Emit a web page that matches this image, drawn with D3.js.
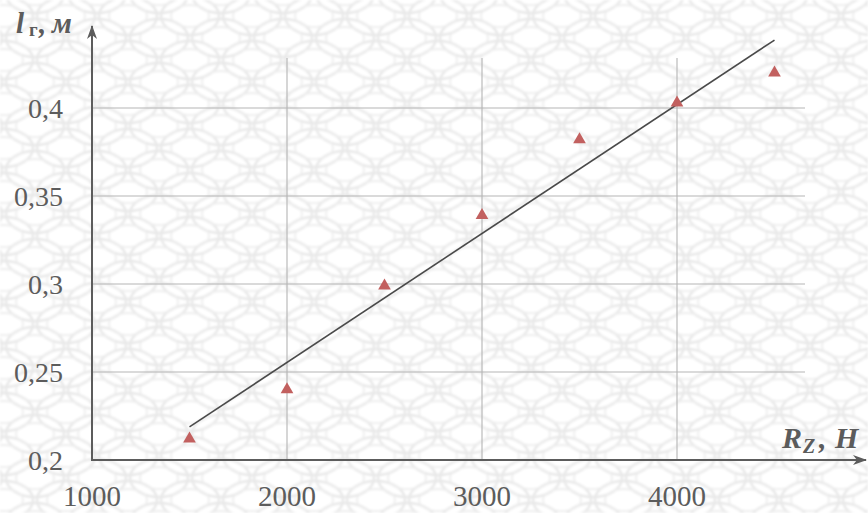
<!DOCTYPE html>
<html>
<head>
<meta charset="utf-8">
<script src="https://cdn.jsdelivr.net/npm/d3@7"></script>
<style>
  html, body { margin: 0; padding: 0; background: #fff; }
  svg { display: block; }
</style>
</head>
<body>
<svg id="chart" width="868" height="513"></svg>
<script>
// Measured points: tensile force R_Z (N) vs. length l_г (m)
const forces = [1500, 2000, 2500, 3000, 3500, 4000, 4500];
const lengths = [0.212, 0.240, 0.299, 0.339, 0.382, 0.403, 0.420];

// Linear trend drawn through the points
const trendX = [1500, 4500];
const trendY = [0.2188, 0.4386];

// Tick labels
const xTicks = [1000, 2000, 3000, 4000];
const yTicks = [0.2, 0.25, 0.3, 0.35, 0.4];
const xGrid = [2000, 3000, 4000];
const yGrid = [0.25, 0.3, 0.35, 0.4];

const W = 868, H = 513;
const FONT = "'Liberation Serif', 'Times New Roman', Times, serif";
const svg = d3.select("#chart");

// Light interlaced background ornament
const defs = svg.append("defs");
const pw = 62, ph = 44;
const pat = defs.append("pattern")
  .attr("id", "bg").attr("patternUnits", "userSpaceOnUse")
  .attr("width", pw).attr("height", ph)
  .attr("x", 4).attr("y", 16);
pat.append("rect").attr("width", pw).attr("height", ph).attr("fill", "#fff");
const shifts = [[0, 0], [pw, 0], [-pw, 0], [0, ph], [0, -ph], [pw, ph], [-pw, ph], [pw, -ph], [-pw, -ph]];
const ring = (cx, cy, rx, ry, col, sw) => {
  shifts.forEach(([dx, dy]) => {
    pat.append("ellipse").attr("cx", cx + dx).attr("cy", cy + dy)
      .attr("rx", rx).attr("ry", ry)
      .attr("fill", "none").attr("stroke", col).attr("stroke-width", sw);
  });
};
ring(0, 0, 29, 19, "#e8e8e8", 2.4);
ring(pw / 2, ph / 2, 29, 19, "#e8e8e8", 2.4);
ring(0, 0, 19, 11, "#eeeeee", 1.8);
ring(pw / 2, ph / 2, 19, 11, "#eeeeee", 1.8);
defs.append("filter").attr("id", "soft")
  .append("feGaussianBlur").attr("stdDeviation", 0.8);
svg.append("rect").attr("width", W).attr("height", H)
  .attr("fill", "url(#bg)").attr("filter", "url(#soft)");

// Scales
const x = d3.scaleLinear().domain([1000, 4000]).range([92, 677]);
const y = d3.scaleLinear().domain([0.2, 0.4]).range([460, 108]);

const grey = "#5c5c5c";

// Grid
svg.append("g").selectAll("line").data(yGrid).join("line")
  .attr("x1", x(1000)).attr("x2", 805)
  .attr("y1", d => y(d)).attr("y2", d => y(d))
  .attr("stroke", "#b5b5b5").attr("stroke-width", 1.1);
svg.append("g").selectAll("line").data(xGrid).join("line")
  .attr("x1", d => x(d)).attr("x2", d => x(d))
  .attr("y1", y(0.2)).attr("y2", 58)
  .attr("stroke", "#b5b5b5").attr("stroke-width", 1.1);

// Axes with arrowheads
const arrow = defs.append("marker").attr("id", "arrow")
  .attr("viewBox", "0 0 14 10").attr("refX", 13).attr("refY", 5)
  .attr("markerWidth", 14).attr("markerHeight", 10)
  .attr("markerUnits", "userSpaceOnUse").attr("orient", "auto");
arrow.append("path").attr("d", "M0,0 L14,5 L0,10 L4,5 Z").attr("fill", grey);

svg.append("line").attr("x1", x(1000)).attr("y1", y(0.2))
  .attr("x2", 866).attr("y2", y(0.2))
  .attr("stroke", grey).attr("stroke-width", 2).attr("marker-end", "url(#arrow)");
svg.append("line").attr("x1", x(1000)).attr("y1", y(0.2) + 1)
  .attr("x2", x(1000)).attr("y2", 26)
  .attr("stroke", grey).attr("stroke-width", 2).attr("marker-end", "url(#arrow)");

// Tick labels
const fmt = d => String(d).replace(".", ",");
svg.append("g").selectAll("text").data(yTicks).join("text")
  .attr("font-family", FONT)
  .attr("x", 63).attr("y", d => y(d) + 10)
  .attr("text-anchor", "end").attr("font-size", 28).attr("fill", grey)
  .text(fmt);
svg.append("g").selectAll("text").data(xTicks).join("text")
  .attr("font-family", FONT)
  .attr("x", d => x(d)).attr("y", 506)
  .attr("text-anchor", "middle").attr("font-size", 29).attr("fill", grey)
  .text(d => d);

// Axis titles
const yl = svg.append("text").attr("y", 33)
  .attr("font-family", FONT)
  .attr("font-size", 29).attr("font-style", "italic").attr("font-weight", "bold").attr("fill", grey);
yl.append("tspan").attr("x", 16).text("l");
yl.append("tspan").attr("x", 29).attr("font-size", 19).attr("font-style", "normal").attr("dy", 3).text("г");
yl.append("tspan").attr("x", 39).attr("dy", -3).text(",");
yl.append("tspan").attr("x", 52).text("м");

const xl = svg.append("text").attr("y", 448)
  .attr("font-family", FONT)
  .attr("font-size", 30).attr("font-style", "italic").attr("font-weight", "bold").attr("fill", grey);
xl.append("tspan").attr("x", 782).text("R");
xl.append("tspan").attr("x", 803).attr("font-size", 20).attr("dy", 5).text("Z");
xl.append("tspan").attr("x", 819).attr("dy", -5).text(",");
xl.append("tspan").attr("x", 835).text("Н");

// Trend line
svg.append("path")
  .datum(trendX.map((d, i) => [d, trendY[i]]))
  .attr("d", d3.line().x(d => x(d[0])).y(d => y(d[1])))
  .attr("fill", "none").attr("stroke", "#4a4a4a").attr("stroke-width", 1.6);

// Measured points
svg.append("g").selectAll("path").data(forces).join("path")
  .attr("transform", (d, i) => `translate(${x(d)},${y(lengths[i])})`)
  .attr("d", d3.symbol().type(d3.symbolTriangle).size(70))
  .attr("fill", "#c2605f");
</script>
</body>
</html>
